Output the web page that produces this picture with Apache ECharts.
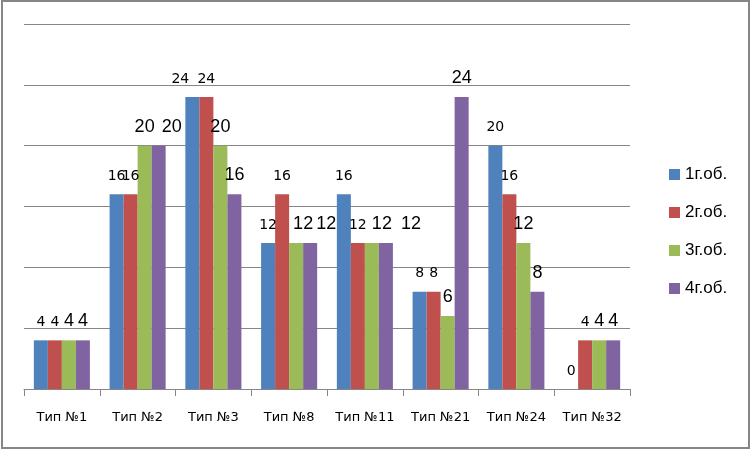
<!DOCTYPE html>
<html>
<head>
<meta charset="utf-8">
<script src="https://cdn.jsdelivr.net/npm/echarts@6/dist/echarts.min.js"></script>
<style>
html,body{margin:0;padding:0;background:#fff;}
#chart{width:753px;height:451px;}
</style>
</head>
<body>
<div id="chart"></div>
<script>
const categories = ['Тип №1','Тип №2','Тип №3','Тип №8','Тип №11','Тип №21','Тип №24','Тип №32'];
const seriesNames = ['1г.об.','2г.об.','3г.об.','4г.об.'];
const s1 = [4,16,24,12,16,8,20,0];
const s2 = [4,16,24,16,12,8,16,4];
const s3 = [4,20,20,12,12,6,12,4];
const s4 = [4,20,16,12,12,24,8,4];
const colors = ['#4F81BD','#C0504D','#9BBB59','#8064A2'];
// horizontal label nudges (px) as in the original picture: [seriesIndex][categoryIndex]
const labelNudge = {0:{2:-12}, 2:{3:7,4:10}, 3:{1:13,3:16,4:25}};
const smallLabel = {fontFamily:'DejaVu Sans', fontSize:14, color:'#000', distance:11};
const largeLabel = {fontFamily:'Liberation Sans', fontSize:18, color:'#000', distance:10};

const allData = [s1,s2,s3,s4];
const series = allData.map((arr, si) => ({
  name: seriesNames[si],
  type: 'bar',
  barGap: '0%',
  barCategoryGap: '26%',
  itemStyle: {color: colors[si]},
  label: Object.assign({show:true, position:'top'}, si < 2 ? smallLabel : largeLabel),
  data: arr.map((v, ci) => {
    const dx = labelNudge[si] && labelNudge[si][ci];
    return dx ? {value: v, label: {offset: [dx, 0]}} : v;
  })
}));

const chart = echarts.init(document.getElementById('chart'));
chart.setOption({
  animation: false,
  color: colors,
  grid: {left: 24, right: 123, top: 24, bottom: 62, containLabel: false},
  legend: {
    orient: 'vertical',
    left: 664, top: 161,
    itemWidth: 11, itemHeight: 11, itemGap: 21,
    icon: 'rect',
    textStyle: {fontFamily: 'Liberation Sans', fontSize: 17, color: '#000'},
    data: seriesNames
  },
  xAxis: {
    type: 'category',
    data: categories,
    axisLine: {lineStyle: {color: '#868686', width: 1}},
    axisTick: {show: true, length: 7, lineStyle: {color: '#868686'}},
    axisLabel: {interval: 0, fontFamily: 'DejaVu Sans', fontSize: 13, color: '#000', margin: 22}
  },
  yAxis: {
    type: 'value',
    min: 0, max: 30, interval: 5,
    axisLabel: {show: false},
    axisLine: {show: false},
    axisTick: {show: false},
    splitLine: {lineStyle: {color: '#868686', width: 1}}
  },
  graphic: [{
    type: 'rect',
    shape: {x: 2, y: 1, width: 747, height: 447},
    style: {fill: 'none', stroke: '#868686', lineWidth: 2},
    silent: true
  }],
  series: series
});
</script>
</body>
</html>
